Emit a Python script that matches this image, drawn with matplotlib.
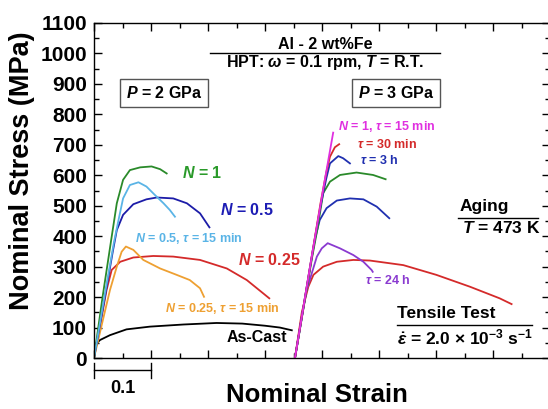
import numpy as np
import matplotlib
matplotlib.use('Agg')
import matplotlib.pyplot as plt
from matplotlib.ticker import MultipleLocator, NullFormatter
import matplotlib.transforms as mtransforms

# ===================== 字体设置 =====================
plt.rcParams['font.family'] = ['Liberation Sans', 'DejaVu Sans']
plt.rcParams['font.weight'] = 'bold'
plt.rcParams['mathtext.fontset'] = 'custom'
plt.rcParams['mathtext.rm'] = 'Liberation Sans:bold'
plt.rcParams['mathtext.it'] = 'Liberation Sans:italic:bold'
plt.rcParams['mathtext.bf'] = 'Liberation Sans:bold'

# ===================== 数据 (应变, 应力 MPa) =====================
# P = 2 GPa
as_cast_e = [0, 0.002, 0.0105, 0.028, 0.057, 0.098, 0.157, 0.215, 0.26, 0.30, 0.326, 0.347]
as_cast_s = [0, 43, 59, 75, 94, 103, 110, 115, 113, 106, 100, 91]

n1_e = [0, 0.015, 0.031, 0.040, 0.051, 0.063, 0.081, 0.101, 0.116, 0.1275]
n1_s = [0, 200, 398, 508, 585, 617, 626, 629, 620, 606]

n05_aged_e = [0, 0.02, 0.035, 0.043, 0.051, 0.063, 0.078, 0.092, 0.107, 0.122, 0.133, 0.142]
n05_aged_s = [0, 220, 380, 453, 524, 568, 577, 563, 535, 508, 486, 464]

n05_e = [0, 0.02, 0.033, 0.040, 0.051, 0.069, 0.092, 0.110, 0.139, 0.163, 0.186, 0.2025]
n05_s = [0, 210, 350, 420, 470, 505, 521, 527, 524, 508, 475, 429]

n025_aged_e = [0, 0.015, 0.028, 0.040, 0.0485, 0.056, 0.069, 0.0865, 0.116, 0.145, 0.168, 0.186, 0.193]
n025_aged_s = [0, 120, 223, 300, 349, 366, 355, 322, 294, 273, 256, 229, 201]

n025_e = [0, 0.012, 0.022, 0.031, 0.046, 0.069, 0.104, 0.139, 0.186, 0.233, 0.268, 0.297, 0.3075]
n025_s = [0, 120, 223, 289, 316, 330, 335, 333, 322, 294, 256, 212, 196]

# P = 3 GPa (应变从各自原点算起, 绘图时平移)
shift_3gpa = 0.3526

t15_e = [0, 0.03, 0.05, 0.067]
t15_s = [0, 340, 560, 740]

t30_e = [0, 0.03, 0.045, 0.055, 0.0614, 0.070, 0.0775]
t30_s = [0, 340, 510, 610, 661, 692, 702]

t3h_e = [0, 0.03, 0.045, 0.055, 0.0614, 0.076, 0.0844, 0.0964]
t3h_s = [0, 340, 500, 590, 639, 663, 656, 639]

g3_e = [0, 0.03, 0.04, 0.0494, 0.0614, 0.079, 0.108, 0.137, 0.159]
g3_s = [0, 330, 430, 541, 579, 601, 609, 601, 587]

b3_e = [0, 0.025, 0.035, 0.0434, 0.0554, 0.0734, 0.0964, 0.12, 0.1434, 0.1654]
b3_s = [0, 280, 390, 453, 492, 517, 524, 521, 497, 459]

t24_e = [0, 0.02, 0.0384, 0.047, 0.0574, 0.079, 0.1024, 0.12, 0.1344, 0.1364]
t24_s = [0, 220, 333, 360, 377, 360, 338, 316, 289, 283]

r3_e = [0, 0.012, 0.0234, 0.0324, 0.0494, 0.0734, 0.1024, 0.1314, 0.19, 0.248, 0.307, 0.359, 0.380]
r3_s = [0, 150, 234, 273, 300, 316, 322, 320, 305, 273, 234, 196, 177]

# ===================== 绘图 =====================
fig = plt.figure(figsize=(5.48, 4.09), dpi=100)
ax = fig.add_axes([94 / 548, 51 / 409, 456 / 548, 335 / 409])

lw = 1.3
ax.plot(as_cast_e, as_cast_s, color='black', lw=lw)
ax.plot(n025_e, n025_s, color='#d42a2a', lw=lw)
ax.plot(n025_aged_e, n025_aged_s, color='#eea032', lw=lw)
ax.plot(n05_e, n05_s, color='#1c1ca8', lw=lw)
ax.plot(n1_e, n1_s, color='#2a8a2a', lw=lw)
ax.plot(n05_aged_e, n05_aged_s, color='#5ab4e6', lw=lw)

p3 = [
    (r3_e, r3_s, '#d42a2a'),
    (t24_e, t24_s, '#8a3ad0'),
    (b3_e, b3_s, '#2030b0'),
    (g3_e, g3_s, '#2a8a2a'),
    (t3h_e, t3h_s, '#2030b0'),
    (t30_e, t30_s, '#d42a2a'),
    (t15_e, t15_s, '#e030e0'),
]
for e, s, c in p3:
    ax.plot(np.array(e) + shift_3gpa, s, color=c, lw=lw)

# ===================== 坐标轴 =====================
ax.set_xlim(0, 0.8)
ax.set_ylim(0, 1100)
ax.xaxis.set_major_locator(MultipleLocator(0.1))
ax.xaxis.set_minor_locator(MultipleLocator(0.05))
ax.yaxis.set_major_locator(MultipleLocator(100))
ax.yaxis.set_minor_locator(MultipleLocator(50))
ax.xaxis.set_major_formatter(NullFormatter())
ax.tick_params(which='both', direction='in', top=True, right=True, width=1)
ax.tick_params(which='major', length=6)
ax.tick_params(which='minor', length=3.5)
ax.tick_params(axis='y', labelsize=15, pad=5)
for sp in ax.spines.values():
    sp.set_linewidth(1)

fig.text(22 / 548, 1 - 171 / 409, 'Nominal Stress (MPa)', rotation=90,
         ha='center', va='center', fontsize=19.5, fontweight='bold')
fig.text(317 / 548, 1 - 395 / 409, 'Nominal Strain',
         ha='center', va='center', fontsize=18.5, fontweight='bold')

# 比例尺 0.1
trans = mtransforms.blended_transform_factory(ax.transData, ax.transAxes)
ax.plot([0, 0.1], [-0.036, -0.036], color='black', lw=1, transform=trans, clip_on=False)
ax.plot([0, 0], [-0.015, -0.06], color='black', lw=1, transform=trans, clip_on=False)
ax.plot([0.1, 0.1], [-0.015, -0.06], color='black', lw=1, transform=trans, clip_on=False)
ax.text(0.05, -0.09, '0.1', transform=trans, ha='center', va='center', fontsize=13)

# ===================== 标注 =====================
ax.text(0.405, 1028, 'Al - 2 wt%Fe', ha='center', va='center', fontsize=11.5)
ax.plot([0.2035, 0.607], [1003, 1003], color='black', lw=1)
ax.text(0.405, 969, r'HPT: $\omega$ = 0.1 rpm, $T$ = R.T.', ha='center', va='center', fontsize=11.5)

box = dict(boxstyle='square,pad=0.35', fc='white', ec='#555555', lw=1)
ax.text(0.123, 870, r'$P$ = 2 GPa', ha='center', va='center', fontsize=11.5, bbox=box)
ax.text(0.530, 870, r'$P$ = 3 GPa', ha='center', va='center', fontsize=11.5, bbox=box)

ax.text(0.154, 606, r'$N$ = 1', color='#2a9a2a', ha='left', va='center', fontsize=11.5)
ax.text(0.221, 486, r'$N$ = 0.5', color='#1c1cb4', ha='left', va='center', fontsize=11.5)
ax.text(0.072, 394, r'$N$ = 0.5, $\tau$ = 15 min', color='#5ab4e6', ha='left', va='center', fontsize=9)
ax.text(0.2526, 322, r'$N$ = 0.25', color='#d42a2a', ha='left', va='center', fontsize=11.5)
ax.text(0.1246, 164, r'$N$ = 0.25, $\tau$ = 15 min', color='#eea032', ha='left', va='center', fontsize=9)
ax.text(0.233, 66, 'As-Cast', color='black', ha='left', va='center', fontsize=11.5)

ax.text(0.428, 760, r'$N$ = 1, $\tau$ = 15 min', color='#e030e0', ha='left', va='center', fontsize=9)
ax.text(0.461, 702, r'$\tau$ = 30 min', color='#d42a2a', ha='left', va='center', fontsize=9)
ax.text(0.4667, 650, r'$\tau$ = 3 h', color='#2030b0', ha='left', va='center', fontsize=9)
ax.text(0.475, 256, r'$\tau$ = 24 h', color='#8a3ad0', ha='left', va='center', fontsize=9)

ax.text(0.642, 496, 'Aging', ha='left', va='center', fontsize=12.5)
ax.plot([0.6386, 0.779], [460, 460], color='black', lw=1)
ax.text(0.645, 427, r'$T$ = 473 K', ha='left', va='center', fontsize=12.5)

ax.text(0.5316, 144.5, 'Tensile Test', ha='left', va='center', fontsize=12.5)
ax.plot([0.5316, 0.768], [108, 108], color='black', lw=1)
ax.text(0.5316, 66, r'$\dot{\varepsilon}$ = 2.0 × 10$^{-3}$ s$^{-1}$', ha='left', va='center', fontsize=12.5)

fig.savefig('out.png', dpi=100)
